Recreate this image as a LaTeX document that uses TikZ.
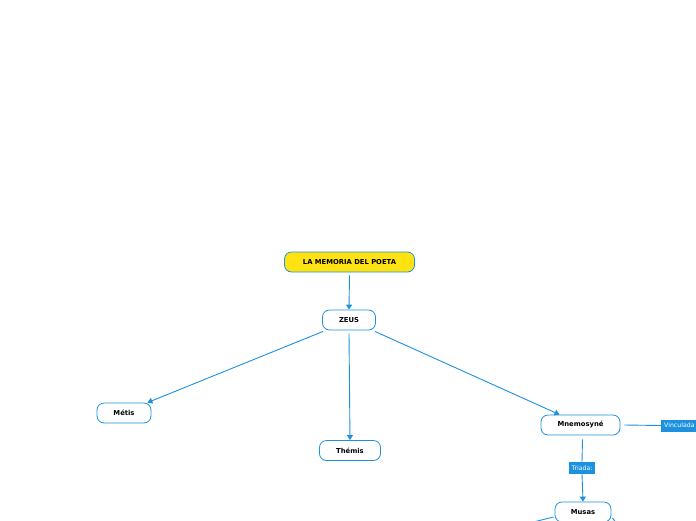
\documentclass[tikz,border=0pt]{standalone}
\usepackage{fontspec}
\setmainfont{DejaVu Sans}
\usetikzlibrary{arrows.meta}
\definecolor{mapblue}{RGB}{27,145,224}
\definecolor{mapyellow}{RGB}{255,226,18}
\tikzset{
  topic/.style={draw=mapblue, line width=0.8pt, rounded corners=7pt, fill=white,
    minimum height=20pt, inner xsep=4pt, font=\fontsize{6.8}{7.5}\selectfont\bfseries},
  central/.style={topic, fill=mapyellow},
  tag/.style={fill=mapblue, text=white, inner xsep=3pt, minimum height=12pt,
    font=\fontsize{6.2}{7}\selectfont},
  link/.style={draw=mapblue, line width=0.9pt},
  arr/.style={link, -{Triangle[width=6pt,length=5pt]}}
}
\begin{document}
\begin{tikzpicture}[x=1pt,y=-1pt]
  \useasboundingbox (0,0) rectangle (696,520);
  \clip (0,0) rectangle (696,520);

  % Tema central
  \node[central, minimum width=130pt] (poeta) at (349.5,262) {LA MEMORIA DEL POETA};
  \node[topic, minimum width=53pt] (zeus) at (349,320) {ZEUS};

  % Hijos de Zeus
  \node[topic, minimum width=54pt] (metis) at (124,413) {Métis};
  \node[topic, minimum width=61pt] (themis) at (350,450.5) {Thémis};
  \node[topic, minimum width=79pt] (mnemo) at (580.5,425) {Mnemosyné};

  % Etiquetas de enlace
  \node[tag, anchor=west] (vinc) at (661,425.5) {Vinculada};
  \node[tag] (triada) at (582,468) {Triada:};
  \node[topic, minimum width=56pt] (musas) at (583,512) {Musas};

  % Ramas que siguen fuera del marco
  \coordinate (abajoizq) at (330,572);
  \coordinate (abajoder) at (660,580);

  \draw[arr] (poeta.south) ++(0,3) -- (zeus.north);
  \draw[arr] ([xshift=1pt,yshift=-1pt]zeus.south west) -- ([xshift=-4pt]metis.north east);
  \draw[arr] ([yshift=-3pt]zeus.south) -- (themis.north);
  \draw[arr] ([xshift=-1pt,yshift=-1pt]zeus.south east) -- ([xshift=-21pt]mnemo.north);
  \draw[link] ([xshift=4pt]mnemo.east) -- (vinc.west);
  \draw[link] ([xshift=2pt,yshift=-4pt]mnemo.south) -- (triada.north);
  \draw[arr] (triada.south) -- (musas.north);
  \draw[link] ([xshift=-1pt,yshift=-5pt]musas.west) -- (abajoizq);
  \draw[link] ([xshift=1pt,yshift=-6pt]musas.east) -- (abajoder);
\end{tikzpicture}
\end{document}
